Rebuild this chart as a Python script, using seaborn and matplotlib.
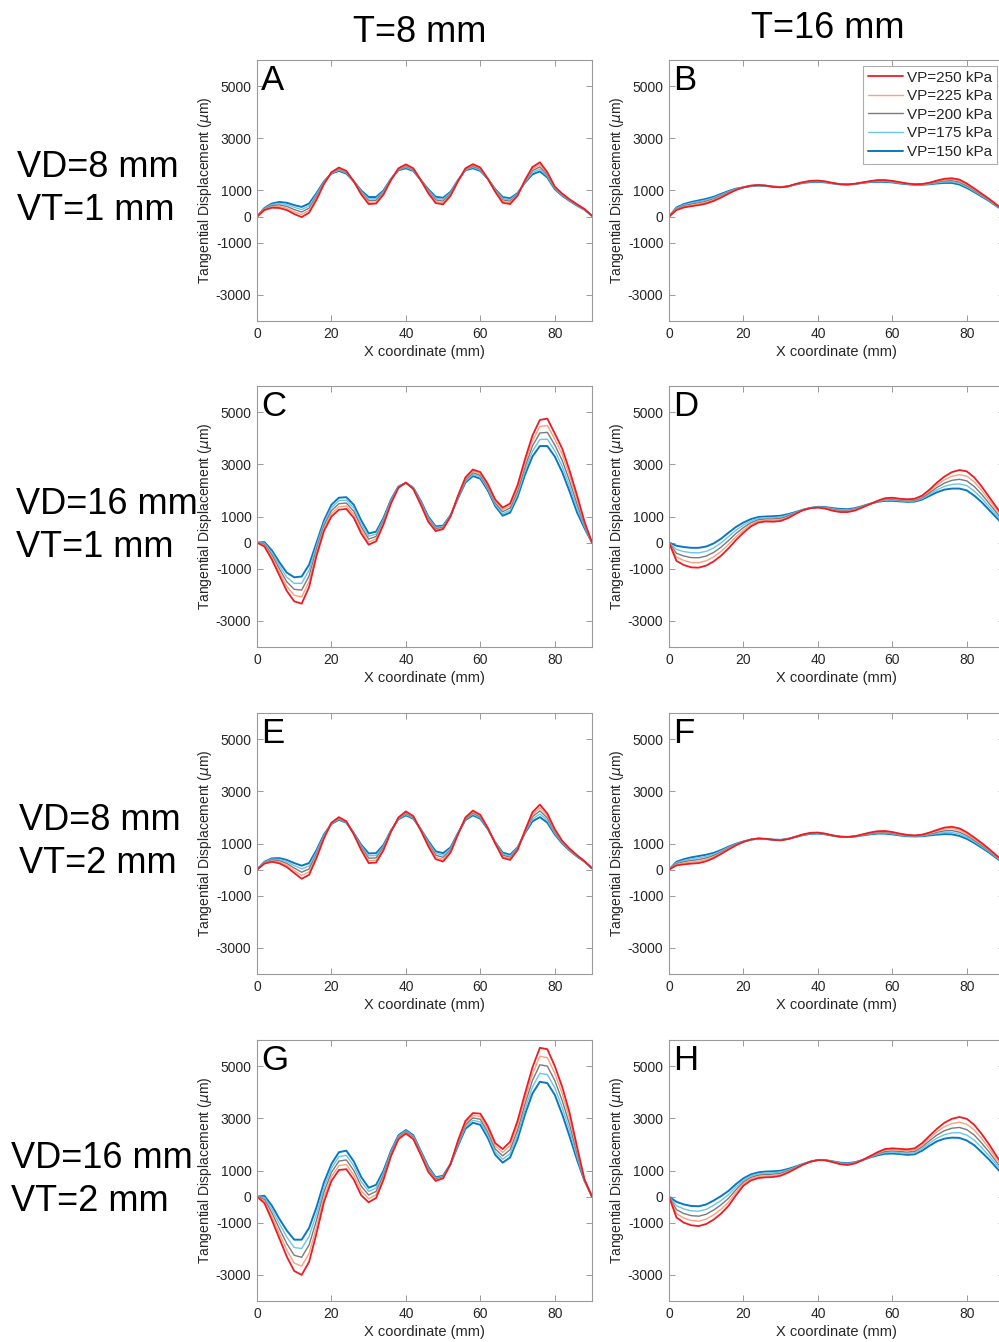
import numpy as np
import pandas as pd
import matplotlib
matplotlib.use('Agg')
import matplotlib.pyplot as plt
import seaborn as sns

# x positions along the boundary (mm), read every 2 mm
x_mm = np.arange(0, 92, 2)

pressures = ['VP=250 kPa', 'VP=225 kPa', 'VP=200 kPa', 'VP=175 kPa', 'VP=150 kPa']
colors = {'VP=250 kPa': '#ec1c24', 'VP=225 kPa': '#f9a27f', 'VP=200 kPa': '#7a7a7a',
          'VP=175 kPa': '#6cc4ea', 'VP=150 kPa': '#0a78c0'}
widths = {'VP=250 kPa': 1.3, 'VP=225 kPa': 1.0, 'VP=200 kPa': 1.0,
          'VP=175 kPa': 1.0, 'VP=150 kPa': 1.4}

col_titles = ['T=8 mm', 'T=16 mm']
row_titles = ['VD=8 mm\nVT=1 mm', 'VD=16 mm\nVT=1 mm', 'VD=8 mm\nVT=2 mm', 'VD=16 mm\nVT=2 mm']
panel_letters = ['A', 'B', 'C', 'D', 'E', 'F', 'G', 'H']

# tangential displacement (um), one list per pressure, order 250 -> 150 kPa
A = [
    [0, 250, 340, 330, 250, 100, -20, 150, 650, 1250, 1700, 1880, 1750, 1350, 850, 480, 500, 850, 1400, 1850, 2000, 1850, 1400, 900, 520, 470, 800, 1350, 1850, 2010, 1880, 1450, 950, 530, 480, 800, 1400, 1900, 2080, 1700, 1150, 880, 660, 470, 290, 30],
    [0, 270, 380, 390, 320, 185, 80, 240, 710, 1275, 1690, 1850, 1725, 1350, 890, 550, 560, 890, 1410, 1830, 1960, 1825, 1400, 940, 580, 530, 840, 1360, 1830, 1970, 1850, 1450, 975, 585, 535, 825, 1375, 1830, 1990, 1650, 1125, 860, 645, 460, 280, 30],
    [0, 290, 420, 445, 390, 270, 175, 325, 775, 1300, 1675, 1815, 1700, 1350, 925, 615, 625, 925, 1425, 1815, 1925, 1800, 1400, 975, 640, 595, 875, 1375, 1815, 1930, 1815, 1450, 1000, 640, 590, 850, 1350, 1760, 1905, 1600, 1100, 840, 630, 445, 275, 30],
    [0, 310, 460, 500, 460, 355, 270, 410, 840, 1325, 1660, 1780, 1675, 1350, 960, 680, 690, 960, 1440, 1800, 1890, 1775, 1400, 1010, 700, 660, 910, 1390, 1800, 1890, 1780, 1450, 1025, 695, 645, 875, 1325, 1690, 1820, 1550, 1075, 820, 615, 430, 265, 30],
    [0, 330, 500, 560, 530, 440, 370, 500, 900, 1350, 1650, 1750, 1650, 1350, 1000, 750, 750, 1000, 1450, 1780, 1850, 1750, 1400, 1050, 760, 720, 950, 1400, 1780, 1850, 1750, 1450, 1050, 750, 700, 900, 1300, 1620, 1730, 1500, 1050, 800, 600, 420, 260, 30],
]
B = [
    [0, 250, 350, 400, 440, 500, 600, 730, 880, 1020, 1120, 1190, 1210, 1190, 1140, 1120, 1160, 1250, 1320, 1370, 1380, 1350, 1290, 1240, 1230, 1260, 1310, 1360, 1400, 1400, 1370, 1320, 1270, 1240, 1250, 1300, 1380, 1450, 1470, 1420, 1270, 1080, 880, 680, 460, 260],
    [0, 275, 383, 440, 485, 545, 640, 765, 905, 1033, 1120, 1185, 1205, 1188, 1143, 1123, 1160, 1245, 1313, 1358, 1368, 1340, 1285, 1240, 1230, 1258, 1305, 1350, 1383, 1383, 1355, 1308, 1263, 1235, 1243, 1285, 1353, 1410, 1425, 1373, 1228, 1045, 853, 660, 445, 250],
    [0, 300, 415, 480, 530, 590, 680, 800, 930, 1045, 1120, 1180, 1200, 1185, 1145, 1125, 1160, 1240, 1305, 1345, 1355, 1330, 1280, 1240, 1230, 1255, 1300, 1340, 1365, 1365, 1340, 1295, 1255, 1230, 1235, 1270, 1325, 1370, 1380, 1325, 1185, 1010, 825, 640, 430, 240],
    [0, 325, 448, 520, 575, 635, 720, 835, 955, 1058, 1120, 1175, 1195, 1183, 1148, 1128, 1160, 1235, 1298, 1333, 1343, 1320, 1275, 1240, 1230, 1253, 1295, 1330, 1348, 1348, 1325, 1283, 1248, 1225, 1228, 1255, 1298, 1330, 1335, 1278, 1143, 975, 798, 620, 415, 230],
    [0, 350, 480, 560, 620, 680, 760, 870, 980, 1070, 1120, 1170, 1190, 1180, 1150, 1130, 1160, 1230, 1290, 1320, 1330, 1310, 1270, 1240, 1230, 1250, 1290, 1320, 1330, 1330, 1310, 1270, 1240, 1220, 1220, 1240, 1270, 1290, 1290, 1230, 1100, 940, 770, 600, 400, 220],
]
C = [
    [0, -150, -650, -1250, -1850, -2250, -2340, -1700, -500, 450, 1000, 1260, 1290, 950, 350, -80, 50, 700, 1500, 2100, 2300, 2050, 1450, 800, 440, 520, 1000, 1800, 2500, 2800, 2700, 2250, 1650, 1340, 1500, 2200, 3200, 4100, 4700, 4750, 4180, 3600, 2750, 1800, 800, 0],
    [0, -108, -563, -1125, -1675, -2020, -2080, -1488, -375, 550, 1113, 1375, 1403, 1075, 475, 28, 143, 763, 1538, 2113, 2298, 2063, 1488, 850, 485, 553, 1013, 1775, 2450, 2738, 2638, 2188, 1588, 1263, 1413, 2088, 3050, 3900, 4450, 4488, 3960, 3375, 2550, 1638, 738, 0],
    [0, -65, -475, -1000, -1500, -1790, -1820, -1275, -250, 650, 1225, 1490, 1515, 1200, 600, 135, 235, 825, 1575, 2125, 2295, 2075, 1525, 900, 530, 585, 1025, 1750, 2400, 2675, 2575, 2125, 1525, 1185, 1325, 1975, 2900, 3700, 4200, 4225, 3740, 3150, 2350, 1475, 675, 0],
    [0, -23, -388, -875, -1325, -1560, -1560, -1063, -125, 750, 1338, 1605, 1628, 1325, 725, 243, 328, 888, 1613, 2138, 2293, 2088, 1563, 950, 575, 618, 1038, 1725, 2350, 2613, 2513, 2063, 1463, 1108, 1238, 1863, 2750, 3500, 3950, 3963, 3520, 2925, 2150, 1313, 613, 0],
    [0, 20, -300, -750, -1150, -1330, -1300, -850, 0, 850, 1450, 1720, 1740, 1450, 850, 350, 420, 950, 1650, 2150, 2290, 2100, 1600, 1000, 620, 650, 1050, 1700, 2300, 2550, 2450, 2000, 1400, 1030, 1150, 1750, 2600, 3300, 3700, 3700, 3300, 2700, 1950, 1150, 550, 0],
]
D = [
    [0, -700, -860, -950, -960, -880, -720, -500, -220, 100, 380, 620, 770, 810, 800, 830, 940, 1100, 1240, 1320, 1340, 1300, 1220, 1170, 1170, 1230, 1350, 1470, 1600, 1700, 1720, 1680, 1660, 1680, 1800, 2030, 2300, 2530, 2700, 2780, 2730, 2500, 2150, 1750, 1350, 950],
    [0, -555, -688, -763, -770, -698, -548, -338, -70, 225, 478, 690, 823, 858, 853, 880, 978, 1118, 1245, 1323, 1348, 1315, 1245, 1200, 1198, 1253, 1363, 1475, 1590, 1675, 1690, 1655, 1635, 1653, 1763, 1970, 2208, 2405, 2543, 2603, 2548, 2325, 2000, 1625, 1250, 875],
    [0, -410, -515, -575, -580, -515, -375, -175, 80, 350, 575, 760, 875, 905, 905, 930, 1015, 1135, 1250, 1325, 1355, 1330, 1270, 1230, 1225, 1275, 1375, 1480, 1580, 1650, 1660, 1630, 1610, 1625, 1725, 1910, 2115, 2280, 2385, 2425, 2365, 2150, 1850, 1500, 1150, 800],
    [0, -265, -343, -388, -390, -333, -203, -13, 230, 475, 673, 830, 928, 953, 958, 980, 1053, 1153, 1255, 1328, 1363, 1345, 1295, 1260, 1253, 1298, 1388, 1485, 1570, 1625, 1630, 1605, 1585, 1598, 1688, 1850, 2023, 2155, 2228, 2248, 2183, 1975, 1700, 1375, 1050, 725],
    [0, -120, -170, -200, -200, -150, -30, 150, 380, 600, 770, 900, 980, 1000, 1010, 1030, 1090, 1170, 1260, 1330, 1370, 1360, 1320, 1290, 1280, 1320, 1400, 1490, 1560, 1600, 1600, 1580, 1560, 1570, 1650, 1790, 1930, 2030, 2070, 2070, 2000, 1800, 1550, 1250, 950, 650],
]
E = [
    [0, 230, 300, 240, 100, -130, -350, -200, 450, 1200, 1800, 2010, 1850, 1350, 750, 250, 270, 750, 1450, 2000, 2230, 2050, 1500, 900, 400, 310, 650, 1350, 2000, 2260, 2100, 1600, 1000, 450, 370, 750, 1500, 2200, 2490, 2150, 1550, 1100, 800, 550, 320, 50],
    [0, 248, 333, 290, 168, -35, -225, -88, 525, 1238, 1788, 1985, 1838, 1363, 800, 343, 360, 800, 1463, 1983, 2193, 2025, 1513, 950, 475, 390, 700, 1363, 1975, 2215, 2063, 1588, 1013, 500, 420, 775, 1475, 2113, 2370, 2063, 1500, 1075, 783, 538, 315, 50],
    [0, 265, 365, 340, 235, 60, -100, 25, 600, 1275, 1775, 1960, 1825, 1375, 850, 435, 450, 850, 1475, 1965, 2155, 2000, 1525, 1000, 550, 470, 750, 1375, 1950, 2170, 2025, 1575, 1025, 550, 470, 800, 1450, 2025, 2250, 1975, 1450, 1050, 765, 525, 310, 50],
    [0, 283, 398, 390, 303, 155, 25, 138, 675, 1313, 1763, 1935, 1813, 1388, 900, 528, 540, 900, 1488, 1948, 2118, 1975, 1538, 1050, 625, 550, 800, 1388, 1925, 2125, 1988, 1563, 1038, 600, 520, 825, 1425, 1938, 2130, 1888, 1400, 1025, 748, 513, 305, 50],
    [0, 300, 430, 440, 370, 250, 150, 250, 750, 1350, 1750, 1910, 1800, 1400, 950, 620, 630, 950, 1500, 1930, 2080, 1950, 1550, 1100, 700, 630, 850, 1400, 1900, 2080, 1950, 1550, 1050, 650, 570, 850, 1400, 1850, 2010, 1800, 1350, 1000, 730, 500, 300, 50],
]
F = [
    [0, 160, 200, 230, 250, 320, 440, 600, 770, 930, 1060, 1150, 1200, 1180, 1140, 1120, 1170, 1260, 1350, 1410, 1420, 1380, 1310, 1260, 1250, 1280, 1350, 1420, 1470, 1480, 1440, 1380, 1330, 1310, 1340, 1420, 1520, 1610, 1640, 1580, 1430, 1230, 1020, 790, 540, 300],
    [0, 195, 250, 290, 318, 383, 490, 638, 798, 945, 1065, 1150, 1195, 1178, 1143, 1125, 1173, 1258, 1343, 1400, 1410, 1373, 1308, 1260, 1250, 1278, 1340, 1403, 1448, 1455, 1418, 1363, 1318, 1300, 1325, 1393, 1475, 1548, 1568, 1508, 1368, 1178, 975, 755, 515, 288],
    [0, 230, 300, 350, 385, 445, 540, 675, 825, 960, 1070, 1150, 1190, 1175, 1145, 1130, 1175, 1255, 1335, 1390, 1400, 1365, 1305, 1260, 1250, 1275, 1330, 1385, 1425, 1430, 1395, 1345, 1305, 1290, 1310, 1365, 1430, 1485, 1495, 1435, 1305, 1125, 930, 720, 490, 275],
    [0, 265, 350, 410, 453, 508, 590, 713, 853, 975, 1075, 1150, 1185, 1173, 1148, 1135, 1178, 1253, 1328, 1380, 1390, 1358, 1303, 1260, 1250, 1273, 1320, 1368, 1403, 1405, 1373, 1328, 1293, 1280, 1295, 1338, 1385, 1423, 1423, 1363, 1243, 1073, 885, 685, 465, 263],
    [0, 300, 400, 470, 520, 570, 640, 750, 880, 990, 1080, 1150, 1180, 1170, 1150, 1140, 1180, 1250, 1320, 1370, 1380, 1350, 1300, 1260, 1250, 1270, 1310, 1350, 1380, 1380, 1350, 1310, 1280, 1270, 1280, 1310, 1340, 1360, 1350, 1290, 1180, 1020, 840, 650, 440, 250],
]
G = [
    [0, -250, -900, -1600, -2300, -2850, -3000, -2500, -1400, -200, 600, 1020, 1050, 650, 50, -220, -50, 650, 1550, 2200, 2420, 2200, 1600, 950, 600, 700, 1250, 2150, 2900, 3200, 3180, 2700, 2050, 1820, 2100, 2900, 3950, 4950, 5700, 5650, 5000, 4200, 3200, 1900, 650, 0],
    [0, -180, -763, -1413, -2050, -2550, -2663, -2175, -1150, -13, 763, 1190, 1228, 825, 225, -80, 75, 738, 1600, 2238, 2453, 2238, 1638, 1000, 635, 725, 1250, 2100, 2825, 3108, 3073, 2588, 1938, 1690, 1950, 2725, 3750, 4700, 5375, 5325, 4725, 3938, 2975, 1775, 638, 0],
    [0, -110, -625, -1225, -1800, -2250, -2325, -1850, -900, 175, 925, 1360, 1405, 1000, 400, 60, 200, 825, 1650, 2275, 2485, 2275, 1675, 1050, 670, 750, 1250, 2050, 2750, 3015, 2965, 2475, 1825, 1560, 1800, 2550, 3550, 4450, 5050, 5000, 4450, 3675, 2750, 1650, 625, 0],
    [0, -40, -488, -1038, -1550, -1950, -1988, -1525, -650, 363, 1088, 1530, 1583, 1175, 575, 200, 325, 913, 1700, 2313, 2518, 2313, 1713, 1100, 705, 775, 1250, 2000, 2675, 2923, 2858, 2363, 1713, 1430, 1650, 2375, 3350, 4200, 4725, 4675, 4175, 3413, 2525, 1525, 613, 0],
    [0, 30, -350, -850, -1300, -1650, -1650, -1200, -400, 550, 1250, 1700, 1760, 1350, 750, 340, 450, 1000, 1750, 2350, 2550, 2350, 1750, 1150, 740, 800, 1250, 1950, 2600, 2830, 2750, 2250, 1600, 1300, 1500, 2200, 3150, 3950, 4400, 4350, 3900, 3150, 2300, 1400, 600, 0],
]
H = [
    [0, -800, -1000, -1100, -1130, -1050, -880, -650, -350, 50, 420, 620, 710, 740, 750, 800, 920, 1070, 1220, 1340, 1400, 1390, 1320, 1240, 1210, 1270, 1400, 1550, 1700, 1820, 1850, 1830, 1810, 1850, 2050, 2330, 2600, 2830, 2980, 3050, 2980, 2750, 2400, 2000, 1550, 1150],
    [0, -650, -825, -915, -940, -863, -698, -483, -208, 158, 490, 678, 765, 795, 805, 848, 955, 1090, 1228, 1340, 1400, 1393, 1328, 1255, 1228, 1283, 1400, 1538, 1670, 1775, 1800, 1780, 1758, 1793, 1978, 2235, 2480, 2678, 2800, 2850, 2773, 2555, 2225, 1855, 1438, 1063],
    [0, -500, -650, -730, -750, -675, -515, -315, -65, 265, 560, 735, 820, 850, 860, 895, 990, 1110, 1235, 1340, 1400, 1395, 1335, 1270, 1245, 1295, 1400, 1525, 1640, 1730, 1750, 1730, 1705, 1735, 1905, 2140, 2360, 2525, 2620, 2650, 2565, 2360, 2050, 1710, 1325, 975],
    [0, -350, -475, -545, -560, -488, -333, -148, 78, 373, 630, 793, 875, 905, 915, 943, 1025, 1130, 1243, 1340, 1400, 1398, 1343, 1285, 1263, 1308, 1400, 1513, 1610, 1685, 1700, 1680, 1653, 1678, 1833, 2045, 2240, 2373, 2440, 2450, 2358, 2165, 1875, 1565, 1213, 888],
    [0, -200, -300, -360, -370, -300, -150, 20, 220, 480, 700, 850, 930, 960, 970, 990, 1060, 1150, 1250, 1340, 1400, 1400, 1350, 1300, 1280, 1320, 1400, 1500, 1580, 1640, 1650, 1630, 1600, 1620, 1760, 1950, 2120, 2220, 2260, 2250, 2150, 1970, 1700, 1420, 1100, 800],
]
panels = [A, B, C, D, E, F, G, H]

x_ticks = [0, 20, 40, 60, 80]
y_ticks = [-3000, -1000, 0, 1000, 3000, 5000]

# long table for seaborn
rows = []
for letter, series in zip(panel_letters, panels):
    for vp, vals in zip(pressures, series):
        for xv, yv in zip(x_mm, vals):
            rows.append({'panel': letter, 'VP': vp, 'x': xv, 'disp': yv})
df = pd.DataFrame(rows)

sns.set_theme(style='white')
plt.rcParams['font.family'] = ['Liberation Sans', 'DejaVu Sans']
plt.rcParams['mathtext.fontset'] = 'dejavusans'
plt.rcParams['axes.unicode_minus'] = False

W, Hh = 999, 1342
fig = plt.figure(figsize=(W / 100, Hh / 100), dpi=100)

lefts = [257, 669]
tops = [60, 386, 713, 1040]
ax_w, ax_h = 335, 261
spine_col = '#9a9a9a'
text_col = '#262626'

for i, letter in enumerate(panel_letters):
    r, c = divmod(i, 2)
    ax = fig.add_axes([lefts[c] / W, 1 - (tops[r] + ax_h) / Hh, ax_w / W, ax_h / Hh])
    sub = df[df['panel'] == letter]
    # draw 150 kPa first so that the 250 kPa curve sits on top
    for vp in pressures[::-1]:
        sns.lineplot(data=sub[sub['VP'] == vp], x='x', y='disp', color=colors[vp],
                     linewidth=widths[vp], ax=ax, label=vp, legend=False,
                     solid_joinstyle='round', solid_capstyle='round')
    ax.set_xlim(0, 90)
    ax.set_ylim(-4000, 6000)
    ax.set_xticks(x_ticks)
    ax.set_yticks(y_ticks)
    ax.tick_params(direction='in', length=4, width=0.7, color=spine_col, labelsize=10,
                   labelcolor=text_col, top=True, right=True, bottom=True, left=True, pad=4)
    for s in ax.spines.values():
        s.set_color(spine_col)
        s.set_linewidth(0.8)
    ax.set_xlabel('X coordinate (mm)', fontsize=10.5, color=text_col, labelpad=3)
    ax.set_ylabel(r'Tangential Displacement ($\mu$m)', fontsize=10, color=text_col)
    ax.yaxis.set_label_coords(-0.128, 0.5)
    ax.text(0.012, 0.985, letter, transform=ax.transAxes, fontsize=25, va='top', ha='left',
            color='black')
    if letter == 'B':
        handles, labels = ax.get_legend_handles_labels()
        leg = ax.legend(handles[::-1], labels[::-1], loc='upper right',
                        bbox_to_anchor=(997 / W, 1 - 66 / Hh), bbox_transform=fig.transFigure,
                        fontsize=11, frameon=True, fancybox=False, handlelength=2.3,
                        handletextpad=0.3, borderpad=0.3, labelspacing=0.3, borderaxespad=0)
        leg.get_frame().set_edgecolor('#9a9a9a')
        leg.get_frame().set_linewidth(0.8)
        for t in leg.get_texts():
            t.set_color(text_col)

# column and row headings
narrow = ['Liberation Sans Narrow', 'Liberation Sans', 'DejaVu Sans']
fig.text(420 / W, 1 - 33 / Hh, col_titles[0], fontsize=26, ha='center', va='center',
         family=narrow, color='black')
fig.text(828 / W, 1 - 28 / Hh, col_titles[1], fontsize=26, ha='center', va='center',
         family=narrow, color='black')
row_y = [189, 526, 842, 1180]
row_x = [17, 16, 19, 11]
for txt, yy, xx in zip(row_titles, row_y, row_x):
    fig.text(xx / W, 1 - yy / Hh, txt, fontsize=26, ha='left', va='center', linespacing=1.3,
             color='black')

fig.savefig('out.png', dpi=100)
